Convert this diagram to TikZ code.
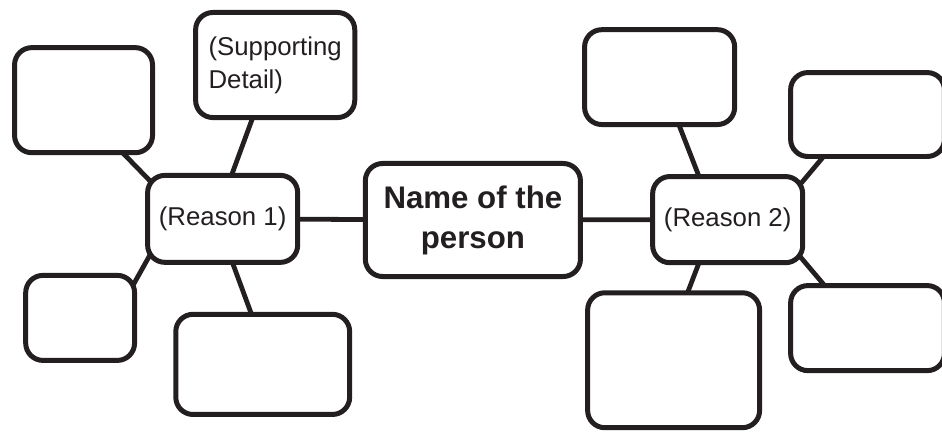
\documentclass[tikz,border=0pt]{standalone}
\usepackage{xcolor}
\usepackage{fontspec}
\setmainfont{Liberation Sans}
\usepackage{tikz}
\usetikzlibrary{backgrounds}

\definecolor{ink}{RGB}{35,31,32}

\begin{document}
\begin{tikzpicture}[
    box/.style={draw=ink, line width=3.75pt, rounded corners=13pt, fill=white, inner sep=0pt, text=ink},
    link/.style={draw=ink, line width=3.6pt, shorten <=-8pt, shorten >=-8pt},
    label/.style={font=\fontsize{19.4}{25}\selectfont, align=left},
    title/.style={font=\fontsize{23.5}{30}\selectfont\bfseries, align=center}]
\useasboundingbox (0,0) rectangle (24.92,11.43);

% Name
\node[box, title, minimum width=5.69cm, minimum height=2.99cm] (person) at (12.51, 5.61) {Name of the\\person};

% Reason 1
\begin{scope}
\node[box, label, minimum width=3.97cm, minimum height=2.30cm] (reasonA) at (5.89, 5.64) {(Reason 1)};
\node[box, label, minimum width=4.21cm, minimum height=2.78cm] (detA2) at (7.28, 9.71) {(Supporting\\Detail)};
\foreach \n/\x/\y/\w/\h in {detA1/2.21/8.78/3.65/2.78, detA3/2.12/3.02/2.88/2.25, detA4/6.95/1.79/4.60/2.65} {
    \node[box, minimum width=\w cm, minimum height=\h cm] (\n) at (\x, \y) {};
}
\end{scope}

% Reason 2
\begin{scope}
\node[box, label, minimum width=3.97cm, minimum height=2.28cm] (reasonB) at (19.25, 5.62) {(Reason 2)};
\foreach \n/\x/\y/\w/\h in {detB1/17.45/9.39/3.97/2.51, detB2/22.95/8.40/4.07/2.22, detB3/22.95/2.75/4.07/2.25, detB4/17.82/1.90/4.55/3.57} {
    \node[box, minimum width=\w cm, minimum height=\h cm] (\n) at (\x, \y) {};
}
\end{scope}

% Links
\begin{pgfonlayer}{background}
\draw[link] (reasonA) -- (person);
\draw[link] (person) -- (reasonB);
\foreach \a/\b in {detA1.-53/reasonA.151, detA2.-113/reasonA.78, detA3.35/reasonA.210, detA4.103/reasonA.-77,
                   detB1.-68/reasonB.123, detB2.224/reasonB.28, detB3.135/reasonB.-29, detB4.78/reasonB.-123} {
    \draw[link] (\a) -- (\b);
}
\end{pgfonlayer}
\end{tikzpicture}
\end{document}
